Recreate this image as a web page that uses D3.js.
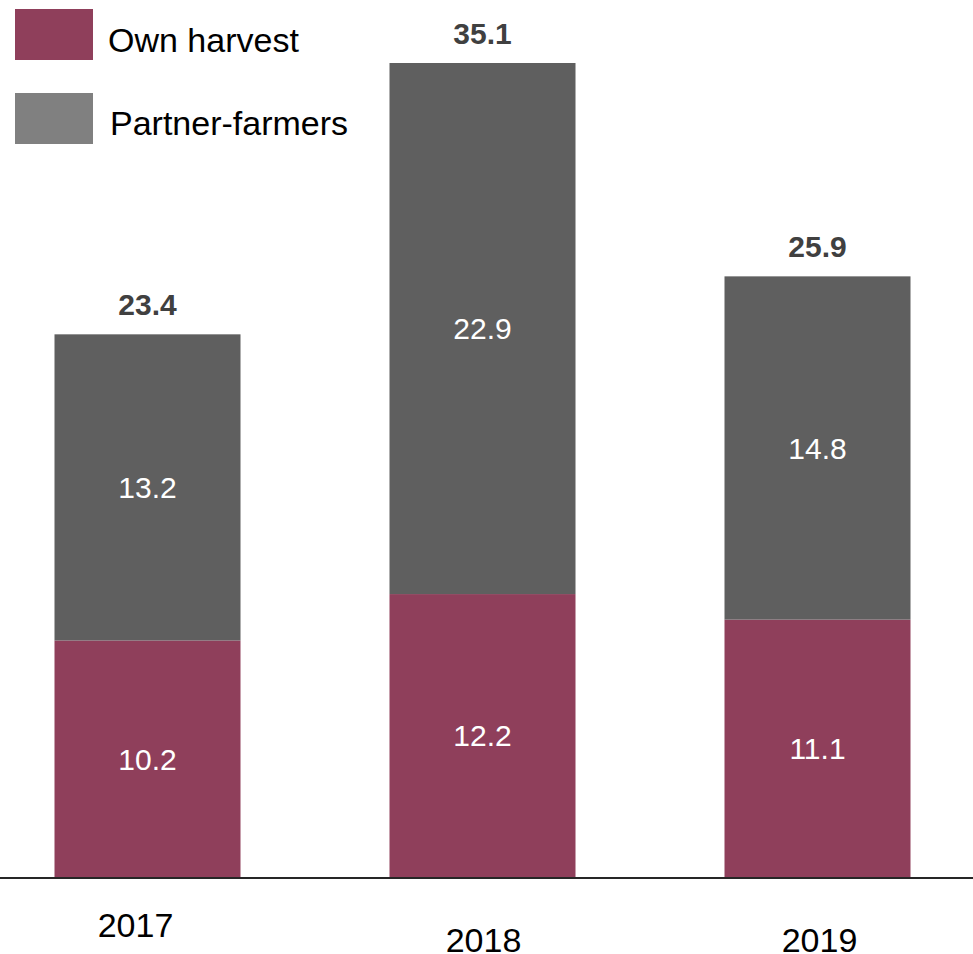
<!DOCTYPE html>
<html>
<head>
<meta charset="utf-8">
<script src="https://cdn.jsdelivr.net/npm/d3@7/dist/d3.min.js"></script>
<style>
  html, body { margin: 0; padding: 0; background: #fff; }
  svg { display: block; font-family: "Liberation Sans", Arial, sans-serif; }
</style>
</head>
<body>
<svg id="chart" width="973" height="954"></svg>
<script>
// Harvest volumes by year, split by source
const years = ["2017", "2018", "2019"];
const ownHarvest = [10.2, 12.2, 11.1];
const partnerFarmers = [13.2, 22.9, 14.8];
const totals = [23.4, 35.1, 25.9];
const seriesNames = ["Own harvest", "Partner-farmers"];
const seriesColors = ["#8f3f5b", "#5f5f5f"];
const legendColors = ["#8f3f5b", "#808080"];

const W = 973;
const baseY = 877, topY = 63;
const svg = d3.select("#chart");

// bar centres and widths
const slot = d3.scalePoint().domain(years).range([147.5, 817.5]);
const barW = 186;

const y = d3.scaleLinear().domain([0, d3.max(totals)]).range([baseY, topY]);

const rows = years.map((yr, i) => ({ year: yr, own: ownHarvest[i], partner: partnerFarmers[i], total: totals[i] }));
const stack = d3.stack().keys(["own", "partner"])(rows);

// stacked segments with their values
stack.forEach((layer, li) => {
  svg.append("g").selectAll("rect")
    .data(layer)
    .join("rect")
    .attr("x", d => slot(d.data.year) - barW / 2)
    .attr("width", barW)
    .attr("y", d => y(d[1]))
    .attr("height", d => y(d[0]) - y(d[1]))
    .attr("fill", seriesColors[li]);

  svg.append("g").selectAll("text")
    .data(layer)
    .join("text")
    .attr("x", d => slot(d.data.year))
    .attr("y", d => (y(d[0]) + y(d[1])) / 2)
    .attr("dy", "0.36em")
    .attr("text-anchor", "middle")
    .attr("fill", "#ffffff")
    .attr("font-size", 30)
    .text(d => d3.format(".1f")(d[1] - d[0]));
});

// totals above bars
svg.append("g").selectAll("text")
  .data(rows)
  .join("text")
  .attr("x", d => slot(d.year))
  .attr("y", d => y(d.total) - 19)
  .attr("text-anchor", "middle")
  .attr("fill", "#404040")
  .attr("font-size", 30)
  .attr("font-weight", "bold")
  .text(d => d3.format(".1f")(d.total));

// baseline
svg.append("line")
  .attr("x1", 0).attr("x2", W)
  .attr("y1", baseY + 1).attr("y2", baseY + 1)
  .attr("stroke", "#262626")
  .attr("stroke-width", 2);

// year labels (first one sits a little higher and to the left)
const yearShiftX = [-12, 1, 2];
const yearBaseline = [937, 952, 952];
svg.append("g").selectAll("text")
  .data(years)
  .join("text")
  .attr("x", (d, i) => slot(d) + yearShiftX[i])
  .attr("y", (d, i) => yearBaseline[i])
  .attr("text-anchor", "middle")
  .attr("fill", "#000")
  .attr("font-size", 34)
  .text(d => d);

// legend
const legend = svg.append("g");
seriesNames.forEach((name, i) => {
  legend.append("rect")
    .attr("x", 15).attr("y", 9 + i * 84)
    .attr("width", 78).attr("height", 51)
    .attr("fill", legendColors[i]);
  legend.append("text")
    .attr("x", 108 + i * 2).attr("y", 52 + i * 83)
    .attr("font-size", 34)
    .attr("fill", "#000")
    .text(name);
});
</script>
</body>
</html>
